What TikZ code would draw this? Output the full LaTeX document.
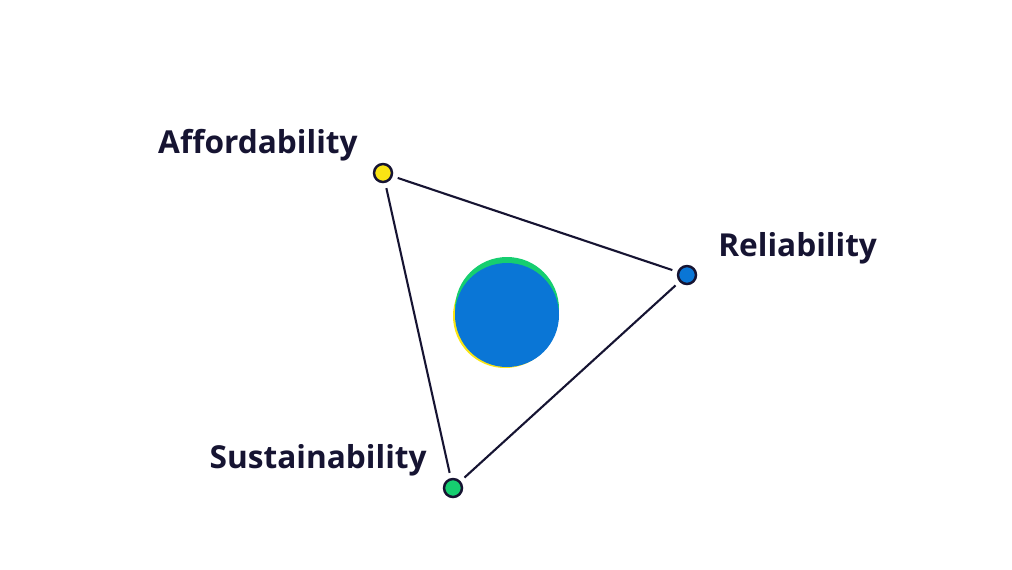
\documentclass[tikz,border=0pt]{standalone}
\usepackage{fontspec}
\setmainfont{Open Sans}
\usetikzlibrary{positioning}
\definecolor{inkblue}{RGB}{22,20,50}
\definecolor{dotyellow}{RGB}{250,228,20}
\definecolor{dotblue}{RGB}{10,118,214}
\definecolor{dotgreen}{RGB}{22,206,112}

\begin{document}
\begin{tikzpicture}[x=0.02cm, y=-0.02cm,
    every node/.style={font=\fontsize{18}{21}\selectfont\bfseries, text=inkblue},
    corner/.style={circle, draw=inkblue, line width=1.4pt, minimum size=0.36cm, inner sep=0pt},
    side/.style={draw=inkblue, line width=1.2pt, shorten <=3pt, shorten >=3pt}]
        \useasboundingbox (0,0) rectangle (1012,569);
        % pillars of the triangle
        \node[corner, fill=dotyellow] (afford) at (383,173) {};
        \node[corner, fill=dotblue] (reli) at (687,275) {};
        \node[corner, fill=dotgreen] (sust) at (453,488) {};
        \node[anchor=east, inner sep=0pt] (affordlbl) at (358,145) {Affordability};
        \node[anchor=west, inner sep=0pt] (relilbl) at (718,248) {Reliability};
        \node[anchor=east, inner sep=0pt] (sustlbl) at (427,460) {Sustainability};
        \draw[side] (afford) -- (reli);
        \draw[side] (reli) -- (sust);
        \draw[side] (sust) -- (afford);
        % balance point
        \fill[dotyellow] (505,316) circle (52);
        \fill[dotgreen] (507,309) circle (52);
        \fill[dotblue] (507,315) circle (52);
    \end{tikzpicture}
\end{document}
